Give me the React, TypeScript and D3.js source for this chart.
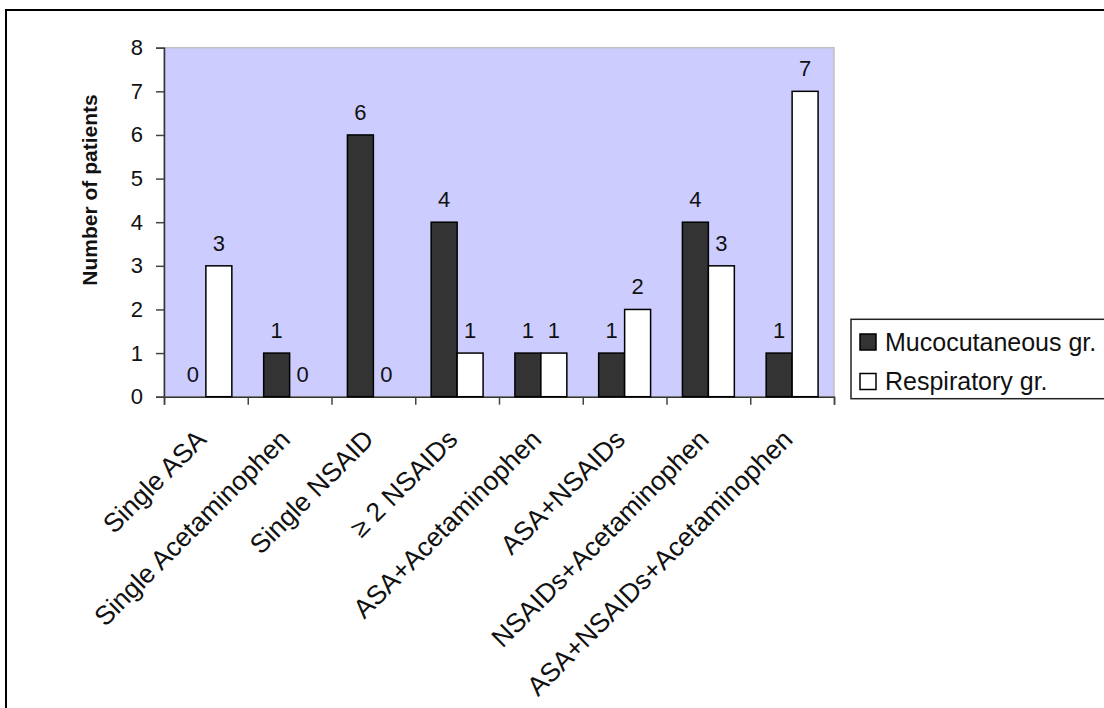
import React, { useRef, useEffect } from 'react';
import { select, scaleBand, scaleLinear, axisLeft, axisBottom } from 'd3';

const categories = [
  'Single ASA',
  'Single Acetaminophen',
  'Single NSAID',
  '\u2265 2 NSAIDs',
  'ASA+Acetaminophen',
  'ASA+NSAIDs',
  'NSAIDs+Acetaminophen',
  'ASA+NSAIDs+Acetaminophen',
];
const seriesNames = ['Mucocutaneous gr.', 'Respiratory gr.'];
const mucocutaneous = [0, 1, 6, 4, 1, 1, 4, 1];
const respiratory = [3, 0, 0, 1, 1, 2, 3, 7];
const yTicks = [0, 1, 2, 3, 4, 5, 6, 7, 8];

const FONT = '"Liberation Sans", Arial, sans-serif';
const fills = ['#333333', '#ffffff'];

function App() {
  const svgRef = useRef<SVGSVGElement>(null);

  useEffect(() => {
    const svg = select(svgRef.current);
    svg.selectAll('*').remove();

    const plot = { left: 164, right: 834, top: 47.7, bottom: 396.7 };

    // outer chart border (runs off the right and bottom of the picture)
    svg
      .append('rect')
      .attr('x', 6)
      .attr('y', 10)
      .attr('width', 1120)
      .attr('height', 720)
      .attr('fill', 'white')
      .attr('stroke', 'black')
      .attr('stroke-width', 2);

    svg
      .append('rect')
      .attr('x', plot.left)
      .attr('y', plot.top)
      .attr('width', plot.right - plot.left)
      .attr('height', plot.bottom - plot.top)
      .attr('fill', '#ccccff')
      .attr('stroke', '#c0c0c0')
      .attr('stroke-width', 1.5);

    const xScale = scaleBand<string>().domain(categories).range([plot.left, plot.right]);
    const yScale = scaleLinear().domain([0, 8]).range([plot.bottom, plot.top]);
    const barW = xScale.bandwidth() * 0.31;
    const inner = scaleBand<number>()
      .domain([0, 1])
      .range([-barW, barW]);

    // y axis
    const yAxis = axisLeft(yScale).tickValues(yTicks).tickSize(8).tickPadding(13);
    const yg = svg.append('g').attr('transform', `translate(${plot.left},0)`).call(yAxis);
    yg.select('.domain').attr('stroke', '#333').attr('stroke-width', 1.5);
    yg.selectAll('.tick line').attr('stroke', '#444').attr('stroke-width', 1.5);
    yg.selectAll('.tick text')
      .attr('font-family', FONT)
      .attr('font-size', 22)
      .attr('fill', '#111');

    // x axis: ticks between categories
    const xEdges = scaleLinear().domain([0, categories.length]).range([plot.left, plot.right]);
    const xAxis = axisBottom(xEdges)
      .ticks(categories.length)
      .tickSize(8)
      .tickFormat(() => '');
    const xg = svg.append('g').attr('transform', `translate(0,${plot.bottom})`).call(xAxis);
    xg.select('.domain').attr('stroke', '#333').attr('stroke-width', 1.5);
    xg.selectAll('.tick line').attr('stroke', '#444').attr('stroke-width', 1.5);

    const series = [mucocutaneous, respiratory];
    series.forEach((values, s) => {
      const g = svg.append('g');
      g.selectAll('rect')
        .data(values)
        .join('rect')
        .attr('x', (d, i) => xScale(categories[i])! + xScale.bandwidth() / 2 + inner(s)!)
        .attr('y', (d) => yScale(d))
        .attr('width', inner.bandwidth())
        .attr('height', (d) => plot.bottom - yScale(d))
        .attr('fill', fills[s])
        .attr('stroke', 'black')
        .attr('stroke-width', 1.5)
        .attr('display', (d) => (d === 0 ? 'none' : null));

      g.selectAll('text')
        .data(values)
        .join('text')
        .attr('x', (d, i) => xScale(categories[i])! + xScale.bandwidth() / 2 + inner(s)! + inner.bandwidth() / 2)
        .attr('y', (d) => yScale(d) - 15)
        .attr('text-anchor', 'middle')
        .attr('font-family', FONT)
        .attr('font-size', 22)
        .attr('fill', '#111')
        .text((d) => d);
    });

    // category labels
    svg
      .append('g')
      .selectAll('text')
      .data(categories)
      .join('text')
      .attr('transform', (d) => `translate(${xScale(d)! + xScale.bandwidth() / 2 + 2},441) rotate(-45)`)
      .attr('text-anchor', 'end')
      .attr('font-family', FONT)
      .attr('font-size', 26.5)
      .attr('fill', '#111')
      .text((d) => d);

    // y title
    svg
      .append('text')
      .attr('transform', 'translate(97,190) rotate(-90)')
      .attr('text-anchor', 'middle')
      .attr('font-family', FONT)
      .attr('font-size', 21)
      .attr('font-weight', 'bold')
      .attr('fill', '#111')
      .text('Number of patients');

    // legend
    const legend = svg.append('g');
    legend
      .append('rect')
      .attr('x', 851)
      .attr('y', 319.3)
      .attr('width', 300)
      .attr('height', 79.4)
      .attr('fill', 'white')
      .attr('stroke', '#222')
      .attr('stroke-width', 1.5);
    const rows = legend
      .selectAll('g.row')
      .data(seriesNames)
      .join('g')
      .attr('class', 'row')
      .attr('transform', (d, i) => `translate(860,${342 + i * 39.5})`);
    rows
      .append('rect')
      .attr('x', 0)
      .attr('y', -8)
      .attr('width', 16)
      .attr('height', 16)
      .attr('fill', (d, i) => fills[i])
      .attr('stroke', 'black')
      .attr('stroke-width', 1.5);
    rows
      .append('text')
      .attr('x', 25)
      .attr('y', 0)
      .attr('dy', '0.35em')
      .attr('font-family', FONT)
      .attr('font-size', 25)
      .attr('fill', '#111')
      .text((d) => d);
  }, []);

  return (
    <svg
      ref={svgRef}
      width={1104}
      height={708}
      style={{ position: 'absolute', left: 0, top: 0, display: 'block', background: 'white' }}
    />
  );
}

export default App;
